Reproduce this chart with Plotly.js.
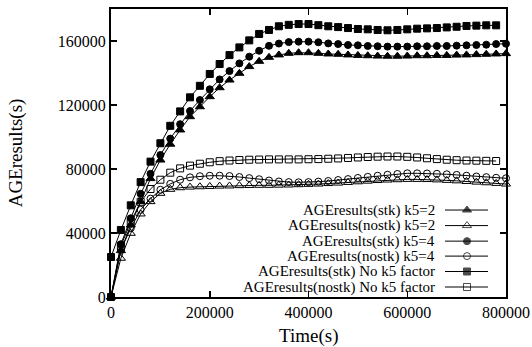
<!DOCTYPE html>
<html>
<head>
<meta charset="utf-8">
<script src="https://cdn.plot.ly/plotly-3.0.1.min.js"></script>
<style>
  html, body { margin: 0; padding: 0; background: #fff; }
  #chart { width: 532px; height: 347px; }
</style>
</head>
<body>
<div id="chart"></div>
<script>
// Simulation time (s), sampled every 20000 s
const timeS = [0, 20000, 40000, 60000, 80000, 100000, 120000, 140000, 160000, 180000,
  200000, 220000, 240000, 260000, 280000, 300000, 320000, 340000, 360000, 380000,
  400000, 420000, 440000, 460000, 480000, 500000, 520000, 540000, 560000, 580000,
  600000, 620000, 640000, 660000, 680000, 700000, 720000, 740000, 760000, 780000, 800000];
// the "No k5 factor" runs stop one sample earlier
const timeNoK5 = timeS.slice(0, 40);

const stkK5_2 = [0, 29000, 45000, 59600, 74000, 85600, 95500, 104400, 112700, 118900,
  125200, 130800, 135600, 139800, 144000, 147300, 149800, 151300, 152300, 152700,
  152700, 152300, 151900, 151700, 151300, 151000, 150800, 150600, 150500, 150500,
  150600, 150800, 150800, 151000, 151000, 151200, 151300, 151500, 151700, 151900, 152100];

const nostkK5_2 = [0, 24200, 39800, 51900, 59600, 64800, 67300, 68300, 68700, 68900,
  69100, 69300, 69400, 69600, 69700, 69800, 69800, 69900, 70000, 70200,
  70400, 70600, 70900, 71200, 71600, 72000, 72400, 72800, 73100, 73300,
  73500, 73500, 73400, 73200, 72900, 72600, 72200, 71800, 71400, 71000, 70600];

const stkK5_4 = [0, 33000, 49200, 64500, 77000, 88750, 99000, 108000, 116200, 123100,
  129800, 136000, 141200, 146000, 150200, 153900, 157000, 158400, 159300, 159600,
  159600, 159200, 158500, 158100, 157500, 157300, 156900, 156700, 156500, 156500,
  156500, 156700, 156700, 156900, 156900, 157100, 157300, 157500, 157700, 158100, 158300];

const nostkK5_4 = [0, 29400, 43000, 54500, 61500, 67000, 70700, 73300, 74800, 75500,
  75800, 75800, 75600, 75000, 74300, 73600, 72800, 72200, 71800, 71700,
  71800, 72100, 72500, 73100, 73700, 74400, 75100, 75800, 76400, 76900,
  77300, 77300, 77200, 77000, 76700, 76300, 75800, 75300, 74900, 74500, 74200];

const stkNoK5 = [25000, 41900, 57300, 71800, 84600, 96100, 107000, 116000, 124800, 132000,
  139400, 145600, 151200, 156000, 160400, 164400, 166900, 169200, 170100, 170600,
  170600, 169900, 169200, 168700, 168100, 167500, 167300, 166900, 166700, 166900,
  167300, 167700, 167900, 168100, 168500, 168900, 169400, 169600, 169800, 169800];

const nostkNoK5 = [0, 32000, 47000, 59500, 67500, 73300, 77700, 80400, 82100, 83300,
  84200, 84900, 85300, 85600, 85800, 85900, 86000, 86000, 86000, 86000,
  86100, 86200, 86400, 86600, 86900, 87200, 87500, 87700, 87800, 87800,
  87600, 87200, 86700, 86200, 85800, 85500, 85300, 85200, 85100, 85000];

const seriesNames = [
  'AGEresults(stk) k5=2',
  'AGEresults(nostk) k5=2',
  'AGEresults(stk) k5=4',
  'AGEresults(nostk) k5=4',
  'AGEresults(stk) No k5 factor',
  'AGEresults(nostk) No k5 factor'
];
const xTicks = [0, 200000, 400000, 600000, 800000];
const yTicks = [0, 40000, 80000, 120000, 160000];
const xTitle = 'Time(s)';
const yTitle = 'AGEresults(s)';

const serif = '"Liberation Serif", "Times New Roman", serif';

const series = [
  { x: timeS,    y: stkK5_2,   symbol: 'triangle-up',      size: 8 },
  { x: timeS,    y: nostkK5_2, symbol: 'triangle-up-open', size: 8 },
  { x: timeS,    y: stkK5_4,   symbol: 'circle',           size: 7 },
  { x: timeS,    y: nostkK5_4, symbol: 'circle-open',      size: 7 },
  { x: timeNoK5, y: stkNoK5,   symbol: 'square',           size: 7 },
  { x: timeNoK5, y: nostkNoK5, symbol: 'square-open',      size: 7 }
];

const traces = series.map((s, i) => ({
  type: 'scatter',
  mode: 'lines+markers',
  name: seriesNames[i],
  x: s.x,
  y: s.y,
  cliponaxis: false,
  showlegend: false,
  line: { color: '#000', width: 1 },
  marker: { symbol: s.symbol, size: s.size, color: '#000', line: { color: '#000', width: 1 } }
}));

// Key in the lower right: right-aligned label, then a sample line with its marker
const keyRows = [0.302, 0.248, 0.194, 0.142, 0.0885, 0.0347];
const keyLine = [0.8456, 0.9013, 0.9544];
const keyTextRight = 0.8253;

series.forEach((s, i) => {
  traces.push({
    type: 'scatter',
    mode: 'lines+markers',
    xaxis: 'x2', yaxis: 'y2',
    x: keyLine,
    y: [keyRows[i], keyRows[i], keyRows[i]],
    hoverinfo: 'skip',
    showlegend: false,
    cliponaxis: false,
    line: { color: '#000', width: 1 },
    marker: { symbol: s.symbol, size: [0, s.size, 0], color: '#000', line: { color: '#000', width: 1 } }
  });
});

const annotations = seriesNames.map((name, i) => ({
  xref: 'paper', yref: 'paper',
  x: keyTextRight, y: keyRows[i],
  xanchor: 'right', yanchor: 'middle',
  text: name, showarrow: false,
  font: { family: serif, size: 15, color: '#000' }
}));

// x-axis caption placed under the tick labels
annotations.push({
  xref: 'paper', yref: 'paper',
  x: 0.5, y: -0.135,
  xanchor: 'center', yanchor: 'middle',
  text: xTitle, showarrow: false,
  font: { family: serif, size: 19, color: '#000' }
});

const axisCommon = {
  showgrid: false, zeroline: false,
  showline: true, linecolor: '#000', linewidth: 2, mirror: 'ticks',
  ticks: 'inside', ticklen: 6, tickwidth: 1.5, tickcolor: '#000',
  tickformat: 'd',
  tickfont: { family: serif, size: 16, color: '#000' }
};

const layout = {
  width: 532, height: 347,
  margin: { l: 111, r: 26, t: 9, b: 50 },
  paper_bgcolor: '#fff', plot_bgcolor: '#fff',
  showlegend: false,
  xaxis: Object.assign({}, axisCommon, {
    range: [0, 800000], tickvals: xTicks
  }),
  yaxis: Object.assign({}, axisCommon, {
    range: [0, 180000], tickvals: yTicks,
    title: { text: yTitle, font: { family: serif, size: 19, color: '#000' }, standoff: 30 }
  }),
  xaxis2: { overlaying: 'x', anchor: 'y2', range: [0, 1], visible: false, fixedrange: true },
  yaxis2: { overlaying: 'y', anchor: 'x2', range: [0, 1], visible: false, fixedrange: true },
  annotations: annotations
};

Plotly.newPlot('chart', traces, layout, { staticPlot: true, displayModeBar: false });
</script>
</body>
</html>
